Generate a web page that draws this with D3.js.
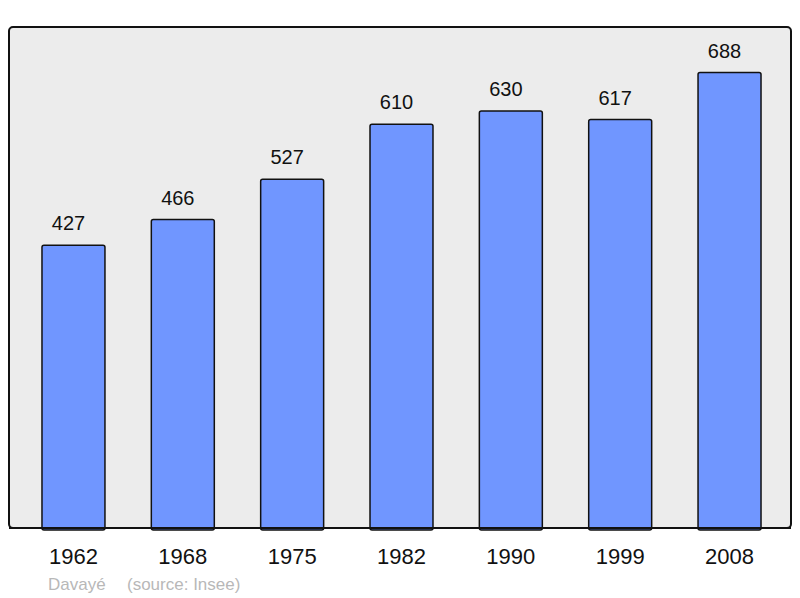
<!DOCTYPE html>
<html>
<head>
<meta charset="utf-8">
<script src="https://cdn.jsdelivr.net/npm/d3@7"></script>
<style>
  html, body { margin: 0; padding: 0; background: #fff; }
  svg { display: block; font-family: "Liberation Sans", Arial, sans-serif; }
</style>
</head>
<body>
<svg id="chart"></svg>
<script>
const years = ['1962', '1968', '1975', '1982', '1990', '1999', '2008'];
const population = [427, 466, 527, 610, 630, 617, 688];
const townName = 'Davayé';
const sourceLabel = '(source: Insee)';

const width = 800, height = 598;
const frame = { left: 9, top: 27, right: 791, bottom: 528 };

const svg = d3.select('#chart')
  .attr('width', width)
  .attr('height', height);

const x = d3.scaleBand()
  .domain(years)
  .range([18.8, 784.2])
  .paddingInner(0.424)
  .paddingOuter(0.212);

const y = d3.scaleLinear()
  .domain([0, d3.max(population) * 1.1])
  .range([frame.bottom, frame.top]);

// plot frame
svg.append('rect')
  .attr('x', frame.left)
  .attr('y', frame.top)
  .attr('width', frame.right - frame.left)
  .attr('height', frame.bottom - frame.top)
  .attr('rx', 4)
  .attr('fill', '#ececec')
  .attr('stroke', '#111')
  .attr('stroke-width', 2);

const data = years.map((yr, i) => ({ year: yr, value: population[i] }));

svg.append('g')
  .selectAll('rect')
  .data(data)
  .enter()
  .append('rect')
  .attr('x', d => x(d.year))
  .attr('y', d => y(d.value))
  .attr('width', x.bandwidth())
  .attr('height', d => y(0) - y(d.value) + 2)
  .attr('rx', 2)
  .attr('fill', '#7096ff')
  .attr('stroke', '#111')
  .attr('stroke-width', 1.5);

// redraw bottom edge of the frame over the bars
svg.append('line')
  .attr('x1', frame.left)
  .attr('x2', frame.right)
  .attr('y1', frame.bottom)
  .attr('y2', frame.bottom)
  .attr('stroke', '#111')
  .attr('stroke-width', 2);

// value labels (sit a little left of the bar centre, as in the original)
svg.append('g')
  .selectAll('text')
  .data(data)
  .enter()
  .append('text')
  .attr('x', d => x(d.year) + x.bandwidth() / 2 - 5)
  .attr('y', d => y(d.value) - 15)
  .attr('text-anchor', 'middle')
  .attr('font-size', 20)
  .attr('fill', '#111')
  .text(d => d.value);

// year axis
const axis = svg.append('g')
  .attr('transform', `translate(0, ${frame.bottom})`)
  .call(d3.axisBottom(x).tickSize(0).tickPadding(0));
axis.select('.domain').remove();
axis.selectAll('text')
  .attr('y', 36)
  .attr('dy', null)
  .attr('font-size', 22)
  .attr('font-family', '"Liberation Sans", Arial, sans-serif')
  .attr('fill', '#111');

// caption
svg.append('text')
  .attr('x', 48)
  .attr('y', 590)
  .attr('font-size', 17)
  .attr('fill', '#b8b8b8')
  .text(townName);
svg.append('text')
  .attr('x', 127)
  .attr('y', 590)
  .attr('font-size', 17)
  .attr('fill', '#b8b8b8')
  .text(sourceLabel);
</script>
</body>
</html>
